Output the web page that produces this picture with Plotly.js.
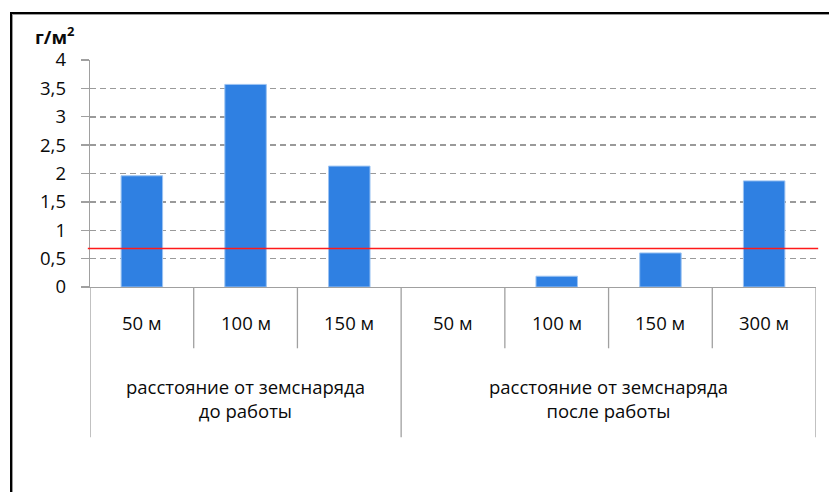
<!DOCTYPE html>
<html>
<head>
<meta charset="utf-8">
<script src="https://cdn.plot.ly/plotly-3.0.1.min.js"></script>
<style>
  html, body { margin: 0; padding: 0; background: #fff; }
  #wrap { position: relative; width: 829px; height: 492px; overflow: hidden; }
  #chart { position: absolute; left: 0; top: 0; width: 829px; height: 492px; }
  #frame { position: absolute; left: 10px; top: 12px; width: 840px; height: 500px;
           border-left: 2px solid #000; border-top: 2px solid #000; pointer-events: none; }
  #frame2 { position: absolute; left: 12px; top: 14px; width: 840px; height: 500px;
           border-left: 1px solid #9a9a9a; border-top: 1px solid #9a9a9a; pointer-events: none; }
</style>
</head>
<body>
<div id="wrap">
  <div id="chart"></div>
  <div id="frame"></div>
  <div id="frame2"></div>
</div>
<script>
// ---- data ----
const subLabels = ["50 м", "100 м", "150 м", "50 м", "100 м", "150 м", "300 м"];
const groupIndex = [0, 0, 0, 1, 1, 1, 1];
const groupLabels = ["расстояние от земснаряда<br>до работы", "расстояние от земснаряда<br>после работы"];
const values = [1.96, 3.57, 2.13, 0, 0.19, 0.60, 1.87];
const limitValue = 0.68;
const yTickVals = [0, 0.5, 1, 1.5, 2, 2.5, 3, 3.5, 4];
const yTickText = ["0", "0,5", "1", "1,5", "2", "2,5", "3", "3,5", "4"];
const yTitle = "г/м<sup>2</sup>";

// ---- build ----
const xs = subLabels.map((_, i) => i);
const FONT = "Open Sans";
const FS = 18.5;
const TXT = "#0a0a0a";
const GRAY = "#a0a0a0";

const trace = {
  type: "bar",
  x: xs,
  y: values,
  width: 0.4,
  marker: { color: "#2f80e2", line: { color: "#9cc3f2", width: values.map(v => v > 0 ? 1 : 0) } },
  hoverinfo: "skip"
};

const shapes = [];
// limit line
shapes.push({ type: "line", xref: "paper", yref: "y", x0: -0.003, x1: 1.003,
  y0: limitValue, y1: limitValue, line: { color: "#ff1a1a", width: 1.5 }, layer: "above" });
// category dividers
for (let i = 0; i <= subLabels.length; i++) {
  const isGroupEdge = (i === 0 || i === subLabels.length || groupIndex[i] !== groupIndex[i - 1]);
  shapes.push({ type: "line", xref: "x", yref: "paper", x0: i - 0.5, x1: i - 0.5,
    y0: 0, y1: isGroupEdge ? -0.662 : -0.27, line: { color: GRAY, width: 1.3 }, layer: "below" });
}

const annotations = [];
subLabels.forEach((lab, i) => {
  annotations.push({ xref: "x", yref: "paper", x: i, y: -0.158, text: lab, showarrow: false,
    xanchor: "center", yanchor: "middle", font: { family: FONT, size: FS, color: TXT } });
});
groupLabels.forEach((lab, g) => {
  const idx = xs.filter(i => groupIndex[i] === g);
  const cx = (idx[0] + idx[idx.length - 1]) / 2;
  annotations.push({ xref: "x", yref: "paper", x: cx, y: -0.491, text: lab, showarrow: false,
    xanchor: "center", yanchor: "middle", font: { family: FONT, size: FS, color: TXT } });
});
annotations.push({ xref: "paper", yref: "paper", x: -0.018, y: 1.11, text: "<b>" + yTitle + "</b>",
  showarrow: false, xanchor: "right", yanchor: "middle", font: { family: FONT, size: FS, color: TXT } });

const layout = {
  width: 829, height: 492,
  margin: { l: 90, r: 13, t: 60, b: 205, pad: 0 },
  paper_bgcolor: "#fff", plot_bgcolor: "#fff",
  showlegend: false,
  font: { family: FONT, size: FS, color: TXT },
  xaxis: { range: [-0.5, subLabels.length - 0.5], showticklabels: false, showgrid: false,
    zeroline: false, showline: true, linecolor: GRAY, linewidth: 1.3, ticks: "", fixedrange: true },
  yaxis: { range: [0, 4], tickvals: yTickVals, ticktext: yTickText, showgrid: true,
    gridcolor: "#9a9a9a", gridwidth: 1.5, griddash: "6px,4px", zeroline: false,
    showline: true, linecolor: GRAY, linewidth: 1.3, ticks: "outside", ticklen: 8,
    ticklabelstandoff: 11,
    tickcolor: GRAY, tickwidth: 1.3, tickfont: { family: FONT, size: FS, color: TXT }, fixedrange: true },
  shapes: shapes,
  annotations: annotations,
  bargap: 0
};

Plotly.newPlot("chart", [trace], layout, { displayModeBar: false, staticPlot: true });
</script>
</body>
</html>
